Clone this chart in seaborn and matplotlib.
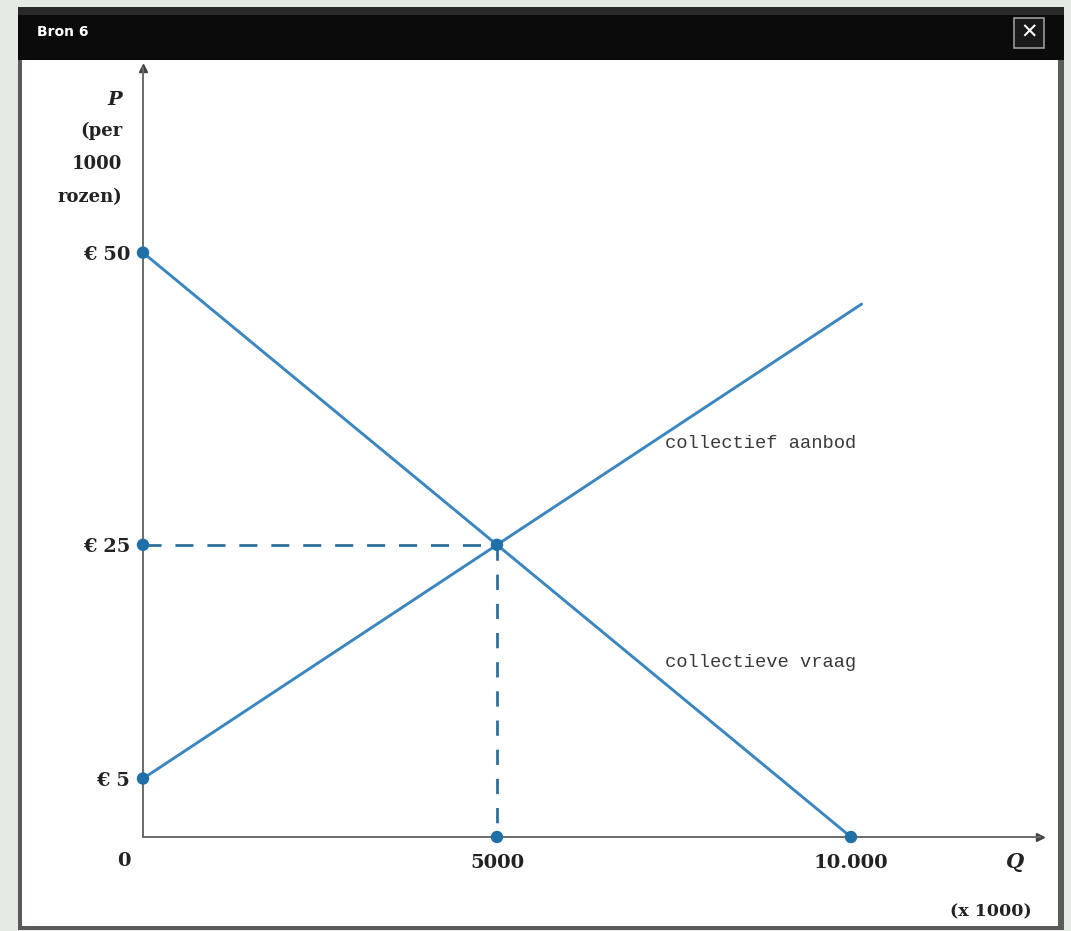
import matplotlib
matplotlib.use("Agg")
import matplotlib.pyplot as plt
import matplotlib.patches as mpatches
import seaborn as sns
import pandas as pd

# --- data (Q in x 1000, P per 1000 rozen) ---
demand_q = [0, 5000, 10000]
demand_p = [50, 25, 0]
supply_q = [0, 5000, 10150]
supply_p = [5, 25, 45.6]
dots_q = [0, 0, 0, 5000, 5000, 10000]
dots_p = [50, 25, 5, 25, 0, 0]
ytick_vals = [50, 25, 5]
ytick_labels = ["€ 50", "€ 25", "€ 5"]
xtick_vals = [5000, 10000]
xtick_labels = ["5000", "10.000"]
eq_q, eq_p = 5000, 25

sns.set_theme(style="white")
plt.rcParams['font.family'] = ['DejaVu Serif', 'DejaVu Sans']

W, H = 1071, 931
fig = plt.figure(figsize=(W / 100, H / 100), dpi=100)
fig.patch.set_facecolor("#e6eae4")

def px(x, y, w, h, **kw):
    # rectangle in pixel coords (top-left origin), behind the axes
    fig.patches.append(mpatches.Rectangle((x / W, 1 - (y + h) / H), w / W, h / H,
                                          transform=fig.transFigure, zorder=-10, **kw))

# window frame
px(18, 58, 1046, 872, facecolor="#5a5a5a", edgecolor="none")
px(22, 60, 1036, 866, facecolor="white", edgecolor="none")
px(18, 7, 1046, 53, facecolor="#0b0b0b", edgecolor="none")
px(18, 7, 1046, 8, facecolor="#2a2a2a", edgecolor="none")
px(1014, 18, 30, 30, facecolor="#1a1a1a", edgecolor="#9a9a9a", linewidth=1.2)
fig.text(37 / W, 1 - 32 / H, "Bron 6", color="white", fontsize=10, fontweight="bold",
         family="DejaVu Sans", va="center", ha="left")
fig.text(1029 / W, 1 - 33 / H, "✕", color="white", fontsize=15, fontweight="bold",
         family="DejaVu Sans", va="center", ha="center")

ax = fig.add_axes([143 / W, 94 / H, 897 / W, 769 / H])
ax.set_facecolor("none")
ax.set_xlim(0, 12670)
ax.set_ylim(0, 65.8)

line_c = "#3a86c0"
dot_c = "#1f6fa8"
dash_c = "#2f6f9c"

df_d = pd.DataFrame({"Q": demand_q, "P": demand_p})
df_s = pd.DataFrame({"Q": supply_q, "P": supply_p})
sns.lineplot(data=df_d, x="Q", y="P", ax=ax, color=line_c, linewidth=2.1, sort=False)
sns.lineplot(data=df_s, x="Q", y="P", ax=ax, color=line_c, linewidth=2.1, sort=False)

ax.plot([0, eq_q], [eq_p, eq_p], color=dash_c, linewidth=2, dashes=(6.5, 5))
ax.plot([eq_q, eq_q], [eq_p, 0], color=dash_c, linewidth=2, dashes=(5.5, 5))

df_dots = pd.DataFrame({"Q": dots_q, "P": dots_p})
sns.scatterplot(data=df_dots, x="Q", y="P", ax=ax, color=dot_c, s=80,
                edgecolor="none", zorder=5, clip_on=False)

# axes with arrows
for s in ["top", "right"]:
    ax.spines[s].set_visible(False)
for s in ["left", "bottom"]:
    ax.spines[s].set_color("#6a6a6a")
    ax.spines[s].set_linewidth(1.4)
ax.plot(1, 0, ">", color="#444444", markersize=6, transform=ax.transAxes, clip_on=False)
ax.plot(0, 1, "^", color="#444444", markersize=6, transform=ax.transAxes, clip_on=False)

ax.set_xlabel("")
ax.set_ylabel("")
ax.set_yticks(ytick_vals)
ax.set_yticklabels(ytick_labels, fontsize=14, fontweight="bold", color="#222222")
ax.set_xticks(xtick_vals)
ax.set_xticklabels(xtick_labels, fontsize=14, fontweight="bold", color="#222222")
ax.tick_params(axis="both", length=0)
ax.tick_params(axis="y", pad=9)
ax.tick_params(axis="x", pad=12)

fig.text(124 / W, 1 - 861 / H, "0", fontsize=14, fontweight="bold", color="#222222",
         ha="center", va="center")
fig.text(1015 / W, 1 - 862 / H, "Q", fontsize=15, fontweight="bold", style="italic",
         color="#222222", ha="center", va="center")
fig.text(1032 / W, 1 - 912 / H, "(x 1000)", fontsize=12.5, fontweight="bold",
         color="#222222", ha="right", va="center")

ylab = [("P", 100, True), ("(per", 131, False), ("1000", 164, False), ("rozen)", 197, False)]
for t, y, it in ylab:
    fig.text(122 / W, 1 - y / H, t, fontsize=13 if not it else 14, fontweight="bold",
             style="italic" if it else "normal", color="#222222", ha="right", va="center")

ax.text(7370, 33.7, "collectief aanbod", fontsize=13.5, color="#3a3a3a", ha="left",
        va="center", family="Liberation Mono")
ax.text(7370, 14.9, "collectieve vraag", fontsize=13.5, color="#3a3a3a", ha="left",
        va="center", family="Liberation Mono")

fig.savefig("out.png", dpi=100, facecolor=fig.get_facecolor())
